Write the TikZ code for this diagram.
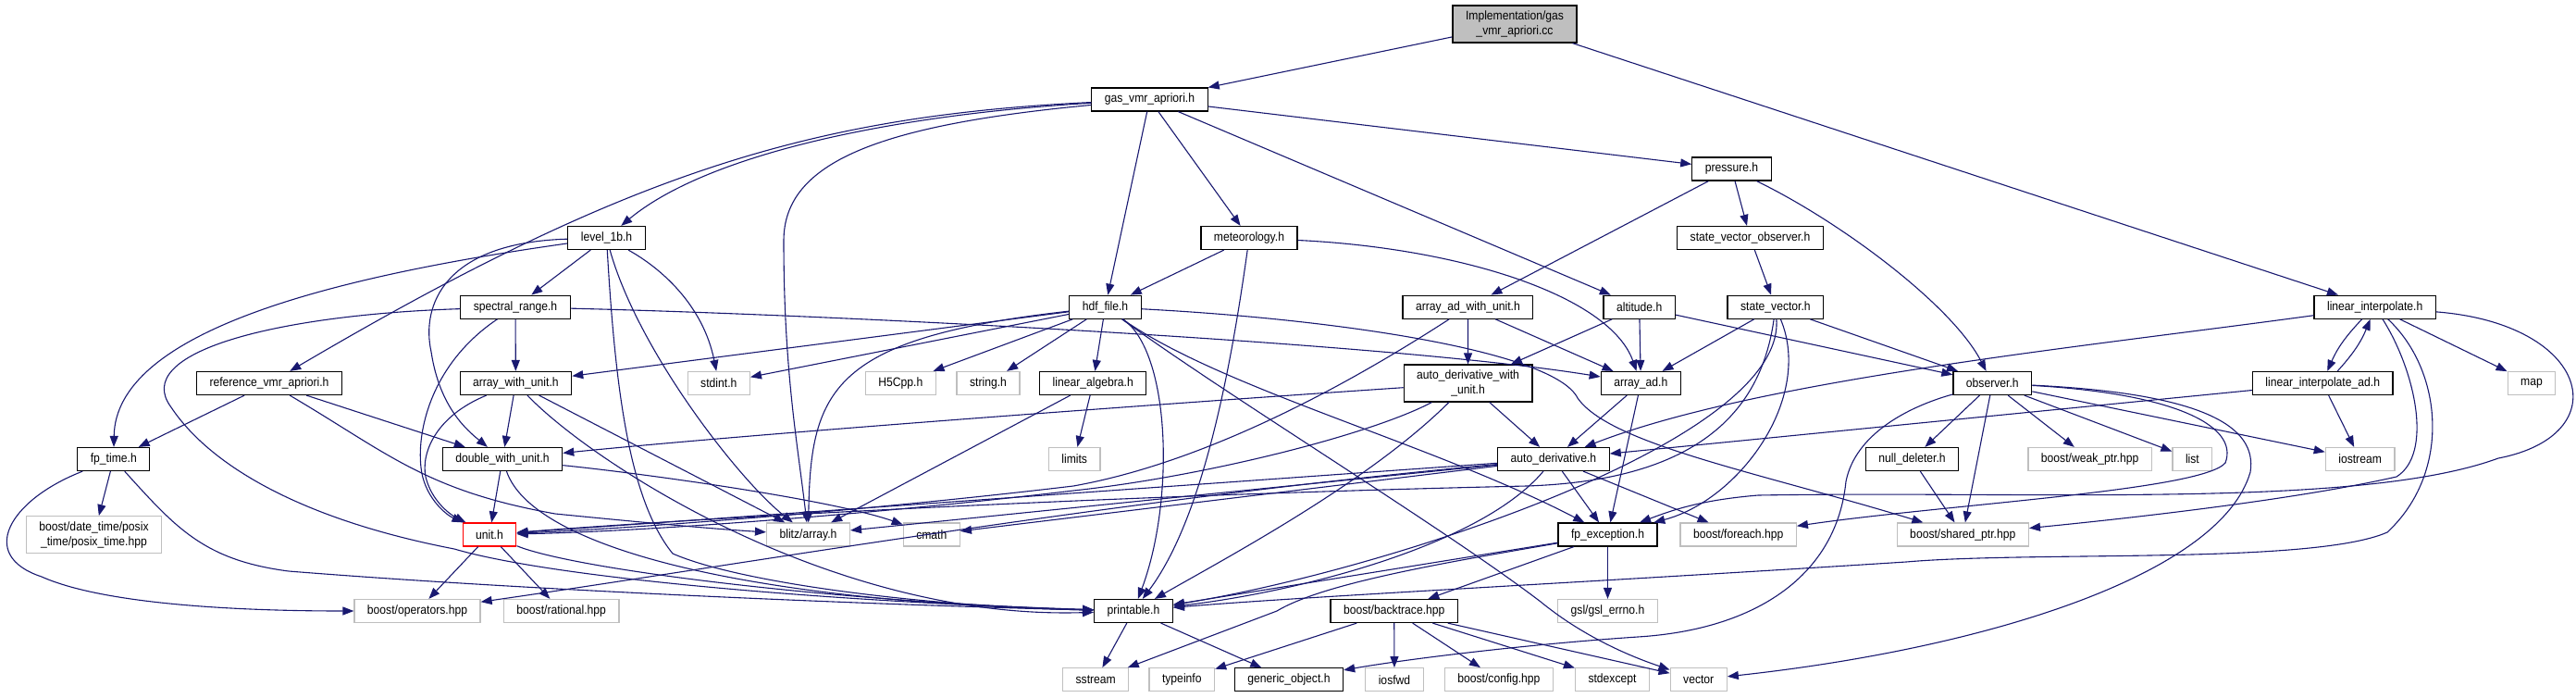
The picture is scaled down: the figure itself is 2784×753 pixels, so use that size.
\documentclass[tikz,border=0pt]{standalone}
\usepackage{fontspec}
\setmainfont{Liberation Sans}[FakeStretch=0.9]
\usetikzlibrary{arrows.meta}
\definecolor{edgec}{HTML}{191970}
\definecolor{grayb}{HTML}{BFBFBF}
\begin{document}
\begin{tikzpicture}[x=1pt,y=1pt,
  nb/.style={draw=black,line width=1.2pt,fill=white,inner xsep=14pt,inner ysep=0pt,minimum height=25pt,font=\fontsize{13.5}{16}\selectfont,align=center},
  ng/.style={nb,draw=grayb},
  e/.style={draw=edgec,line width=1.1pt,-{Triangle[length=12pt,width=9pt]}}]
\useasboundingbox (0,0) rectangle (2784,-753);
% nodes
\node[nb,fill=grayb,minimum height=40pt] (impl) at (1637,-26) {Implementation/gas\\\_vmr\_apriori.cc};
\node[nb] (gasvmr) at (1242.5,-107.5) {gas\_vmr\_apriori.h};
\node[nb] (pressure) at (1871.5,-182.5) {pressure.h};
\node[nb] (lvl1b) at (655.5,-257) {level\_1b.h};
\node[nb] (meteo) at (1350,-257) {meteorology.h};
\node[nb] (svo) at (1891.5,-257) {state\_vector\_observer.h};
\node[nb] (spec) at (557,-331.7) {spectral\_range.h};
\node[nb] (hdf) at (1194.5,-331.7) {hdf\_file.h};
\node[nb] (aawu) at (1586.4,-331.7) {array\_ad\_with\_unit.h};
\node[nb] (alt) at (1771.7,-331.7) {altitude.h};
\node[nb] (sv) at (1918.9,-331.7) {state\_vector.h};
\node[nb] (linint) at (2566.7,-331.7) {linear\_interpolate.h};
\node[nb] (refvmr) at (291,-414) {reference\_vmr\_apriori.h};
\node[nb] (awu) at (557.4,-414) {array\_with\_unit.h};
\node[ng] (stdint) at (776.8,-414) {stdint.h};
\node[ng] (h5) at (973.3,-414) {H5Cpp.h};
\node[ng] (string) at (1068,-414) {string.h};
\node[nb] (linalg) at (1181.3,-414) {linear\_algebra.h};
\node[nb,minimum height=40pt] (adwu) at (1586.6,-414) {auto\_derivative\_with\\\_unit.h};
\node[nb] (arrayad) at (1773.3,-414) {array\_ad.h};
\node[nb] (observer) at (2153.3,-414) {observer.h};
\node[nb] (liad) at (2510.2,-414) {linear\_interpolate\_ad.h};
\node[ng] (map) at (2736,-414) {map};
\node[nb] (fptime) at (122.8,-496) {fp\_time.h};
\node[nb] (dwu) at (543,-496) {double\_with\_unit.h};
\node[ng] (limits) at (1161.2,-496) {limits};
\node[nb] (autod) at (1678.9,-496) {auto\_derivative.h};
\node[nb] (nulldel) at (2066.5,-496) {null\_deleter.h};
\node[ng] (weakptr) at (2258.6,-496) {boost/weak\_ptr.hpp};
\node[ng] (list) at (2369.4,-496) {list};
\node[ng] (iostream) at (2550.6,-496) {iostream};
\node[ng,minimum height=40pt] (posix) at (101.5,-577.7) {boost/date\_time/posix\\\_time/posix\_time.hpp};
\node[nb,draw=red] (unit) at (529,-577.5) {unit.h};
\node[ng] (blitz) at (873.5,-577.5) {blitz/array.h};
\node[ng] (cmath) at (1006.8,-577.5) {cmath};
\node[nb] (fpexc) at (1737.5,-577.5) {fp\_exception.h};
\node[ng] (foreach) at (1878.7,-577.5) {boost/foreach.hpp};
\node[ng] (sharedptr) at (2121.3,-577.5) {boost/shared\_ptr.hpp};
\node[ng] (boostops) at (451,-660) {boost/operators.hpp};
\node[ng] (rational) at (606.7,-660) {boost/rational.hpp};
\node[nb] (printable) at (1225,-660) {printable.h};
\node[nb] (backtrace) at (1506.7,-660) {boost/backtrace.hpp};
\node[ng] (gsl) at (1737.5,-660) {gsl/gsl\_errno.h};
\node[ng] (sstream) at (1184.2,-734.2) {sstream};
\node[ng] (typeinfo) at (1277.3,-734.2) {typeinfo};
\node[nb] (generic) at (1393,-734.2) {generic\_object.h};
\node[ng] (iosfwd) at (1507,-734.2) {iosfwd};
\node[ng] (config) at (1619.9,-734.2) {boost/config.hpp};
\node[ng] (stdexcept) at (1742.5,-734.2) {stdexcept};
\node[ng] (vector) at (1835.7,-734.2) {vector};
% edges
\draw[e] (impl) -- (gasvmr);
\draw[e] (impl) -- (linint);
\draw[e] (gasvmr) .. controls (950,-125) and (760,-170) .. (lvl1b);
\draw[e] (gasvmr) .. controls (880,-125) and (680,-185) .. (refvmr);
\draw[e] (gasvmr) .. controls (950,-135) and (847,-175) .. (847,-260) .. controls (847,-400) and (862,-480) .. (blitz);
\draw[e] (gasvmr) -- (hdf);
\draw[e] (gasvmr) -- (meteo);
\draw[e] (gasvmr) -- (alt);
\draw[e] (gasvmr) -- (pressure);
\draw[e] (lvl1b) -- (spec);
\draw[e] (lvl1b) .. controls (350,-300) and (125,-360) .. (fptime);
\draw[e] (lvl1b) .. controls (480,-262) and (455,-330) .. (466,-380) .. controls (475,-440) and (505,-465) .. (dwu);
\draw[e] (lvl1b) .. controls (715,-290) and (760,-330) .. (stdint);
\draw[e] (lvl1b) .. controls (690,-380) and (800,-520) .. (blitz);
\draw[e] (lvl1b) .. controls (665,-420) and (680,-540) .. (727,-598) .. controls (800,-630) and (1000,-655) .. (printable);
\draw[e] (spec) -- (awu);
\draw[e] (spec) .. controls (470,-390) and (450,-460) .. (455,-505) .. controls (458,-535) and (480,-555) .. (unit);
\draw[e] (spec) .. controls (300,-340) and (140,-380) .. (185,-440) .. controls (225,-500) and (320,-560) .. (491,-593) .. controls (600,-625) and (900,-650) .. (printable);
\draw[e] (spec) .. controls (900,-340) and (1500,-370) .. (arrayad);
\draw[e] (refvmr) -- (fptime);
\draw[e] (refvmr) -- (dwu);
\draw[e] (refvmr) .. controls (420,-490) and (460,-530) .. (600,-555) .. controls (700,-565) and (780,-572) .. (blitz);
\draw[e] (fptime) -- (posix);
\draw[e] (fptime) .. controls (10,-540) and (-25,-600) .. (45,-623) .. controls (110,-652) and (250,-660) .. (boostops);
\draw[e] (fptime) .. controls (190,-570) and (220,-605) .. (312,-617) .. controls (600,-640) and (1000,-655) .. (printable);
\draw[e] (awu) -- (dwu);
\draw[e] (awu) .. controls (470,-450) and (455,-490) .. (460,-515) .. controls (466,-540) and (485,-555) .. (unit);
\draw[e] (awu) -- (blitz);
\draw[e] (awu) .. controls (640,-500) and (900,-670) .. (printable);
\draw[e] (dwu) -- (unit);
\draw[e] (dwu) .. controls (575,-590) and (800,-650) .. (printable);
\draw[e] (dwu) .. controls (700,-512) and (900,-540) .. (cmath);
\draw[e] (unit) -- (boostops);
\draw[e] (unit) -- (rational);
\draw[e] (unit) .. controls (620,-615) and (900,-650) .. (printable);
\draw[e] (hdf) -- (awu);
\draw[e] (hdf) -- (stdint);
\draw[e] (hdf) .. controls (900,-365) and (876,-420) .. (blitz);
\draw[e] (hdf) -- (h5);
\draw[e] (hdf) -- (string);
\draw[e] (hdf) -- (linalg);
\draw[e] (hdf) .. controls (1265,-380) and (1270,-540) .. (printable);
\draw[e] (hdf) .. controls (1330,-430) and (1560,-570) .. (1665,-650) .. controls (1720,-695) and (1780,-715) .. (vector);
\draw[e] (hdf) .. controls (1320,-420) and (1550,-480) .. (fpexc);
\draw[e] (hdf) .. controls (1450,-345) and (1680,-380) .. (1705,-430) .. controls (1740,-480) and (1900,-510) .. (sharedptr);
\draw[e] (linalg) -- (limits);
\draw[e] (linalg) -- (blitz);
\draw[e] (meteo) -- (hdf);
\draw[e] (meteo) .. controls (1580,-268) and (1740,-320) .. (arrayad);
\draw[e] (meteo) .. controls (1330,-400) and (1300,-560) .. (printable);
\draw[e] (pressure) -- (aawu);
\draw[e] (pressure) -- (svo);
\draw[e] (pressure) .. controls (1990,-240) and (2110,-330) .. (observer);
\draw[e] (svo) -- (sv);
\draw[e] (sv) -- (arrayad);
\draw[e] (sv) -- (observer);
\draw[e] (sv) .. controls (1960,-430) and (1880,-540) .. (fpexc);
\draw[e] (sv) .. controls (1930,-480) and (1480,-620) .. (printable);
\draw[e] (sv) .. controls (1900,-470) and (1800,-520) .. (1650,-525) .. controls (1200,-535) and (750,-560) .. (unit);
\draw[e] (alt) -- (arrayad);
\draw[e] (alt) -- (adwu);
\draw[e] (alt) -- (observer);
\draw[e] (aawu) -- (adwu);
\draw[e] (aawu) -- (arrayad);
\draw[e] (aawu) .. controls (1450,-420) and (1300,-500) .. (1160,-525) .. controls (950,-550) and (700,-570) .. (unit);
\draw[e] (adwu) -- (autod);
\draw[e] (adwu) .. controls (1200,-440) and (800,-470) .. (dwu);
\draw[e] (adwu) .. controls (1480,-470) and (1300,-515) .. (1160,-530) .. controls (950,-555) and (700,-574) .. (unit);
\draw[e] (adwu) .. controls (1480,-520) and (1330,-600) .. (printable);
\draw[e] (arrayad) -- (autod);
\draw[e] (arrayad) -- (fpexc);
\draw[e] (autod) -- (unit);
\draw[e] (autod) -- (blitz);
\draw[e] (autod) -- (cmath);
\draw[e] (autod) .. controls (1200,-540) and (800,-610) .. (boostops);
\draw[e] (autod) .. controls (1600,-590) and (1400,-640) .. (printable);
\draw[e] (autod) -- (fpexc);
\draw[e] (autod) -- (foreach);
\draw[e] (fpexc) -- (printable);
\draw[e] (fpexc) .. controls (1560,-608) and (1430,-630) .. (1380,-660) -- (sstream);
\draw[e] (fpexc) -- (backtrace);
\draw[e] (fpexc) -- (gsl);
\draw[e] (printable) -- (sstream);
\draw[e] (printable) -- (generic);
\draw[e] (backtrace) -- (typeinfo);
\draw[e] (backtrace) -- (iosfwd);
\draw[e] (backtrace) -- (config);
\draw[e] (backtrace) -- (stdexcept);
\draw[e] (backtrace) -- (vector);
\draw[e] (observer) -- (nulldel);
\draw[e] (observer) -- (weakptr);
\draw[e] (observer) -- (list);
\draw[e] (observer) -- (iostream);
\draw[e] (observer) -- (sharedptr);
\draw[e] (observer) .. controls (2060,-440) and (2005,-470) .. (1995,-520) .. controls (1985,-620) and (1900,-680) .. (1770,-688) .. controls (1650,-696) and (1520,-712) .. (generic);
\draw[e] (observer) .. controls (2350,-425) and (2420,-460) .. (2405,-500) .. controls (2380,-530) and (2100,-545) .. (foreach);
\draw[e] (observer) .. controls (2380,-425) and (2440,-460) .. (2432,-510) .. controls (2400,-620) and (2150,-700) .. (vector);
\draw[e] (nulldel) -- (sharedptr);
\draw[e] ([xshift=-14pt]linint.south) to[bend right=10] ([xshift=5pt]liad.north);
\draw[e] ([xshift=16pt]liad.north) to[bend right=10] ([xshift=-5pt]linint.south);
\draw[e] (linint) -- (map);
\draw[e] (linint) .. controls (2250,-375) and (1900,-410) .. (autod);
\draw[e] (linint) .. controls (2610,-400) and (2630,-490) .. (2590,-515) .. controls (2480,-540) and (2300,-560) .. (sharedptr);
\draw[e] (linint) .. controls (2640,-400) and (2650,-510) .. (2580,-575) .. controls (2500,-610) and (2200,-595) .. (2060,-607) .. controls (1700,-630) and (1400,-645) .. (printable);
\draw[e] (linint) .. controls (2800,-350) and (2830,-470) .. (2700,-495) .. controls (2550,-550) and (2200,-530) .. (1900,-535) .. controls (1840,-540) and (1810,-550) .. (fpexc);
\draw[e] (liad) -- (iostream);
\draw[e] (liad) -- (autod);
\end{tikzpicture}
\end{document}
